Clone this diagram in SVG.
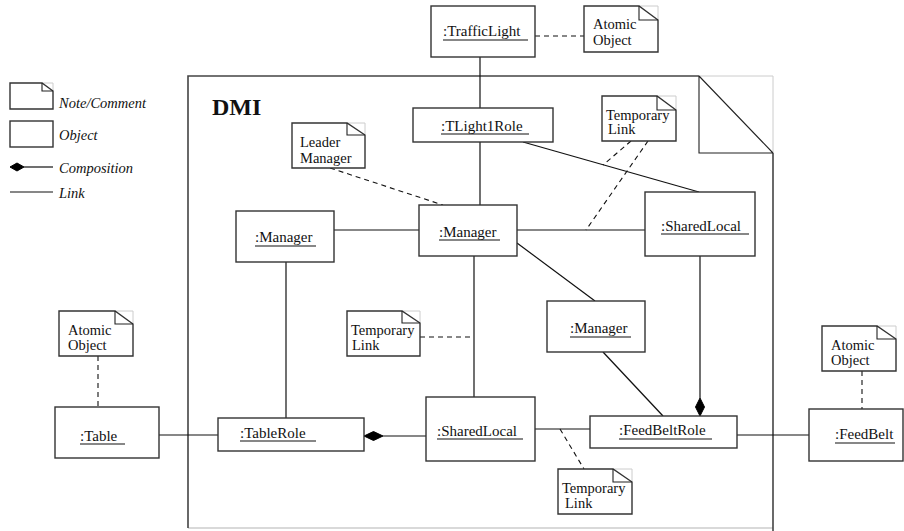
<svg xmlns="http://www.w3.org/2000/svg" width="904" height="531" viewBox="0 0 904 531" font-family="'Liberation Serif', Tinos, 'DejaVu Serif', serif">
<style>
text{font-family:'Liberation Serif', Tinos, 'DejaVu Serif', serif;fill:#111}
.obj{font-size:15px}
.nt{font-size:14.5px}
.leg{font-size:14.5px;font-style:italic}
.box{fill:#fff;stroke:#333;stroke-width:1.4}
.ul{stroke:#111;stroke-width:1.2}
.ln{stroke:#111;stroke-width:1.2;fill:none}
.dash{stroke:#111;stroke-width:1.1;fill:none;stroke-dasharray:5,4}
.nb{fill:#fff;stroke:#333;stroke-width:1.4;stroke-linejoin:miter}
.nf{fill:none;stroke:#222;stroke-width:1.1}
.lg{fill:none;stroke:#ccc;stroke-width:1}
.dia{fill:#000;stroke:#000;stroke-width:1}
</style>

<g id="legend">
  <path class="lg" d="M42,83 H53 V91"/>
  <path class="nb" d="M10,83 H42 L53,91 V109 H10 Z"/>
  <path class="nf" d="M42,83 V91 H53"/>
  <text class="leg" x="59" y="108">Note/Comment</text>
  <rect class="box" x="10" y="121" width="43" height="26"/>
  <text class="leg" x="59" y="140">Object</text>
  <polygon class="dia" points="10,167 17,163 24,167 17,171"/>
  <line class="ln" x1="24" y1="167" x2="53" y2="167"/>
  <text class="leg" x="59" y="173">Composition</text>
  <line class="ln" x1="10" y1="192" x2="53" y2="192"/>
  <text class="leg" x="59" y="198">Link</text>
</g>

<g id="dmi-frame">
  <path class="lg" d="M699,76 H773 V153"/>
  <path d="M188,528 H773" stroke="#ccc" stroke-width="1.5" fill="none"/>
  <path d="M699,76 H188 V528" stroke="#444" stroke-width="1.6" fill="none"/>
  <path d="M773,153 V531" stroke="#444" stroke-width="1.6" fill="none"/>
  <path class="nf" d="M699,76 V153 H773 M699,76 L773,153"/>
  <text x="212" y="115" font-size="24" font-weight="bold">DMI</text>
</g>

<g id="connectors">
  <line class="ln" x1="480" y1="57" x2="480" y2="108"/>
  <line class="dash" x1="535" y1="36" x2="584" y2="36"/>
  <line class="ln" x1="480" y1="142" x2="480" y2="205"/>
  <line class="ln" x1="523" y1="142" x2="699" y2="192"/>
  <line class="dash" x1="330" y1="168" x2="443" y2="205"/>
  <line class="dash" x1="631" y1="141" x2="603" y2="165"/>
  <line class="dash" x1="648" y1="141" x2="586" y2="230"/>
  <line class="ln" x1="334" y1="230" x2="419" y2="230"/>
  <line class="ln" x1="517" y1="230" x2="645" y2="230"/>
  <line class="ln" x1="517" y1="243" x2="595" y2="301"/>
  <line class="ln" x1="286" y1="262" x2="286" y2="418"/>
  <line class="ln" x1="474" y1="256" x2="474" y2="397"/>
  <line class="dash" x1="420" y1="337" x2="474" y2="337"/>
  <line class="ln" x1="159" y1="435" x2="218" y2="435"/>
  <line class="ln" x1="383" y1="436" x2="426" y2="436"/>
  <polygon class="dia" points="364,436 373.5,431.5 383,436 373.5,440.5"/>
  <line class="ln" x1="535" y1="429" x2="590" y2="429"/>
  <line class="dash" x1="560" y1="429" x2="584" y2="469"/>
  <line class="ln" x1="603" y1="352" x2="663" y2="416"/>
  <line class="ln" x1="700" y1="256" x2="700" y2="398"/>
  <polygon class="dia" points="700,416 695.5,407 700,398 704.5,407"/>
  <line class="ln" x1="737" y1="435" x2="809" y2="435"/>
  <line class="dash" x1="98" y1="356" x2="98" y2="407"/>
  <line class="dash" x1="862" y1="371" x2="862" y2="409"/>
</g>

<g id="trafficlight">
  <rect class="box" x="431" y="6" width="104" height="51"/>
  <text class="obj" x="443" y="36">:TrafficLight</text>
  <line class="ul" x1="443" y1="40" x2="528" y2="40"/>
</g>
<g id="note-tl-atomic">
  <path class="lg" d="M639,6 H658 V20"/>
  <path class="nb" d="M584,6 H639 L658,20 V52 H584 Z"/>
  <path class="nf" d="M639,6 V20 H658"/>
  <text class="nt" x="593" y="29">Atomic</text>
  <text class="nt" x="593" y="45">Object</text>
</g>
<g id="tlight1role">
  <rect class="box" x="413" y="108" width="140" height="34"/>
  <text class="obj" x="441" y="131">:TLight1Role</text>
  <line class="ul" x1="441" y1="134" x2="529" y2="134"/>
</g>
<g id="note-temp-top">
  <path class="lg" d="M657,96 H676 V110"/>
  <path class="nb" d="M602,96 H657 L676,110 V141 H602 Z"/>
  <path class="nf" d="M657,96 V110 H676"/>
  <text class="nt" x="606" y="120">Temporary</text>
  <text class="nt" x="608" y="134">Link</text>
</g>
<g id="note-leader">
  <path class="lg" d="M347,123 H365 V135"/>
  <path class="nb" d="M292,123 H347 L365,135 V168 H292 Z"/>
  <path class="nf" d="M347,123 V135 H365"/>
  <text class="nt" x="300" y="147">Leader</text>
  <text class="nt" x="300" y="163">Manager</text>
</g>
<g id="manager-main">
  <rect class="box" x="419" y="205" width="98" height="51"/>
  <text class="obj" x="439" y="237">:Manager</text>
  <line class="ul" x1="439" y1="240" x2="500" y2="240"/>
</g>
<g id="manager-left">
  <rect class="box" x="236" y="211" width="98" height="51"/>
  <text class="obj" x="255" y="242">:Manager</text>
  <line class="ul" x1="255" y1="246" x2="316" y2="246"/>
</g>
<g id="sharedlocal-top">
  <rect class="box" x="645" y="192" width="110" height="64"/>
  <text class="obj" x="661" y="231">:SharedLocal</text>
  <line class="ul" x1="661" y1="234" x2="749" y2="234"/>
</g>
<g id="manager-2">
  <rect class="box" x="547" y="301" width="98" height="51"/>
  <text class="obj" x="570" y="333">:Manager</text>
  <line class="ul" x1="570" y1="337" x2="631" y2="337"/>
</g>
<g id="note-temp-mid">
  <path class="lg" d="M402,311 H420 V323"/>
  <path class="nb" d="M347,311 H402 L420,323 V356 H347 Z"/>
  <path class="nf" d="M402,311 V323 H420"/>
  <text class="nt" x="351" y="335">Temporary</text>
  <text class="nt" x="352" y="350">Link</text>
</g>
<g id="note-table-atomic">
  <path class="lg" d="M115,311 H133 V324"/>
  <path class="nb" d="M59,311 H115 L133,324 V356 H59 Z"/>
  <path class="nf" d="M115,311 V324 H133"/>
  <text class="nt" x="68" y="335">Atomic</text>
  <text class="nt" x="68" y="350">Object</text>
</g>
<g id="table">
  <rect class="box" x="55" y="407" width="104" height="51"/>
  <text class="obj" x="80" y="441">:Table</text>
  <line class="ul" x1="80" y1="444" x2="125" y2="444"/>
</g>
<g id="tablerole">
  <rect class="box" x="218" y="418" width="146" height="33"/>
  <text class="obj" x="240" y="438">:TableRole</text>
  <line class="ul" x1="240" y1="441" x2="316" y2="441"/>
</g>
<g id="sharedlocal-bottom">
  <rect class="box" x="426" y="397" width="109" height="64"/>
  <text class="obj" x="437" y="436">:SharedLocal</text>
  <line class="ul" x1="437" y1="439" x2="523" y2="439"/>
</g>
<g id="note-temp-bottom">
  <path class="lg" d="M613,469 H632 V482"/>
  <path class="nb" d="M558,469 H613 L632,482 V514 H558 Z"/>
  <path class="nf" d="M613,469 V482 H632"/>
  <text class="nt" x="562" y="493">Temporary</text>
  <text class="nt" x="565" y="508">Link</text>
</g>
<g id="feedbeltrole">
  <rect class="box" x="590" y="416" width="147" height="32"/>
  <text class="obj" x="619" y="435">:FeedBeltRole</text>
  <line class="ul" x1="619" y1="439" x2="712" y2="439"/>
</g>
<g id="note-feedbelt-atomic">
  <path class="lg" d="M877,326 H896 V339"/>
  <path class="nb" d="M822,326 H877 L896,339 V371 H822 Z"/>
  <path class="nf" d="M877,326 V339 H896"/>
  <text class="nt" x="831" y="350">Atomic</text>
  <text class="nt" x="831" y="365">Object</text>
</g>
<g id="feedbelt">
  <rect class="box" x="809" y="409" width="94" height="52"/>
  <text class="obj" x="835" y="439">:FeedBelt</text>
  <line class="ul" x1="835" y1="443" x2="895" y2="443"/>
</g>
</svg>
